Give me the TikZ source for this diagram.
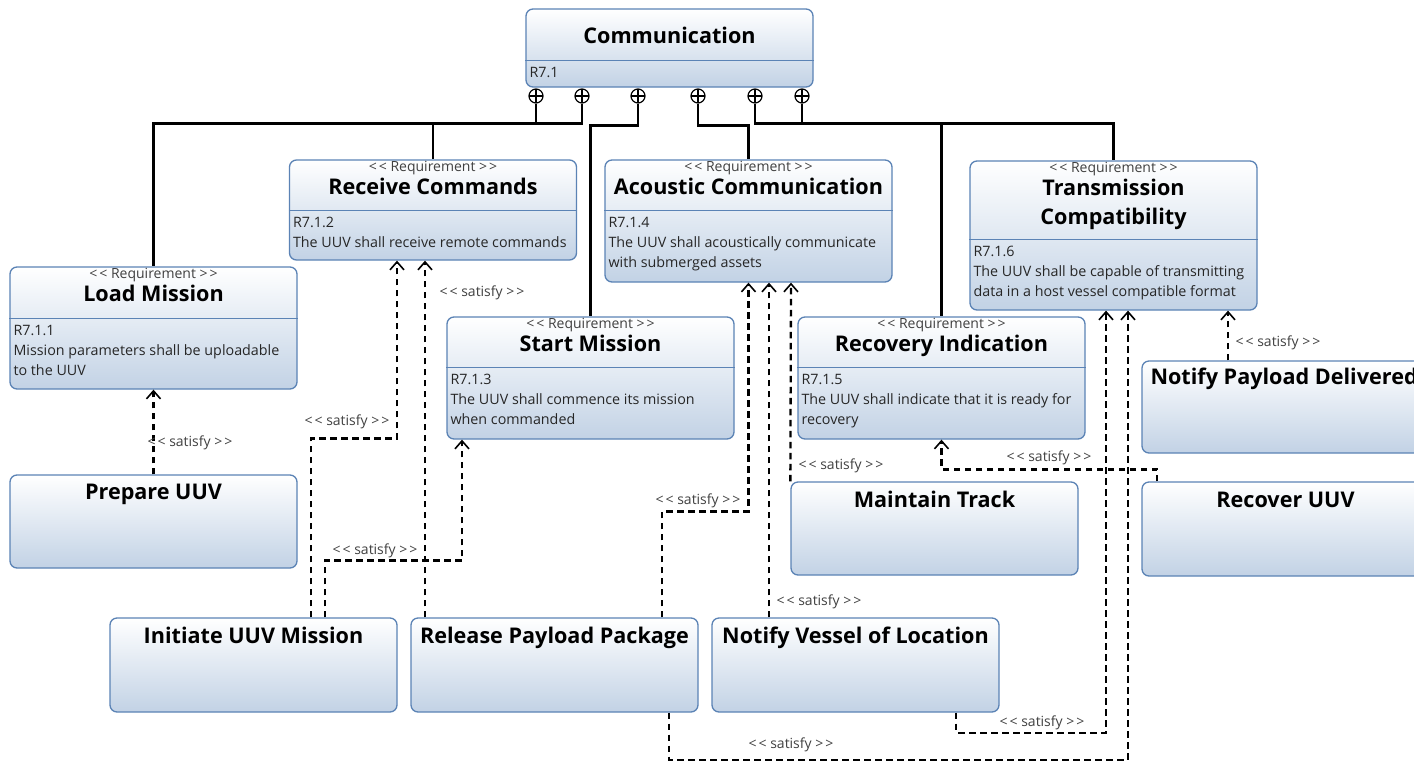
\documentclass[tikz,border=0pt]{standalone}
\usepackage{fontspec}
\setmainfont{Open Sans}
\usetikzlibrary{arrows.meta}
\definecolor{boxedge}{HTML}{5B83B5}
\definecolor{boxlow}{HTML}{C2D2E5}
\definecolor{labelgrey}{HTML}{404040}
\newcommand{\stereo}[1]{<\kern2pt<~#1~>\kern2pt>}
\tikzset{
  blockbox/.style={draw=boxedge, line width=1.3pt, rounded corners=7pt, top color=white, bottom color=boxlow, minimum width=287pt, inner sep=0pt},
  divider/.style={draw=boxedge, line width=1.3pt},
  stereotype/.style={font=\fontsize{14}{16}\selectfont, text=labelgrey, inner sep=0pt},
  titlefont/.style={font=\fontsize{21.6}{29}\selectfont\bfseries, inner sep=0pt},
  oneline/.style={text height=15pt, text depth=4pt},
  bodytext/.style={font=\fontsize{14.3}{20}\selectfont, text=black!85, align=left, anchor=north west, inner sep=0pt},
  contain/.style={circle, draw, fill=white, line width=1.2pt, minimum size=14pt, inner sep=0pt,
    path picture={\draw[line width=1.2pt] (path picture bounding box.north) -- (path picture bounding box.south)
      (path picture bounding box.west) -- (path picture bounding box.east);}},
  tree/.style={line width=2.3pt},
  sat/.style={line width=2.3pt, dash pattern=on 6.5pt off 4.5pt, -{Straight Barb[length=8pt,width=14pt,line width=1.6pt]}},
  satlabel/.style={font=\fontsize{14}{16}\selectfont, text=labelgrey, inner sep=0pt}
}
\begin{document}
\begin{tikzpicture}[x=1pt,y=-1pt]
    \useasboundingbox (0,0) rectangle (1414,761);
    \clip (0,0) rectangle (1414,761);

    % requirements
    \node[blockbox, minimum height=78pt] (comm) at (669.5,48) {};
    \draw[divider] ([yshift=-52pt]comm.north west) -- ([yshift=-52pt]comm.north east);
    \node[titlefont, oneline] (commt) at ([yshift=-30pt]comm.north) {Communication};
    \node[bodytext] (commd) at ([xshift=4pt,yshift=-55pt]comm.north west) {\strut R7.1};

    \node[blockbox, minimum height=100pt] (recv) at (433,210) {};
    \draw[divider] ([yshift=-51pt]recv.north west) -- ([yshift=-51pt]recv.north east);
    \node[stereotype] (recvs) at ([yshift=-9pt]recv.north) {\stereo{Requirement}};
    \node[titlefont, oneline] (recvt) at ([yshift=-30pt]recv.north) {Receive Commands};
    \node[bodytext] (recvd) at ([xshift=4pt,yshift=-54pt]recv.north west) {\strut R7.1.2\\The UUV shall receive remote commands};

    \node[blockbox, minimum height=122pt] (acou) at (748.5,221) {};
    \draw[divider] ([yshift=-51pt]acou.north west) -- ([yshift=-51pt]acou.north east);
    \node[stereotype] (acous) at ([yshift=-9pt]acou.north) {\stereo{Requirement}};
    \node[titlefont, oneline] (acout) at ([yshift=-30pt]acou.north) {Acoustic Communication};
    \node[bodytext] (acoud) at ([xshift=4pt,yshift=-54pt]acou.north west) {\strut R7.1.4\\The UUV shall acoustically communicate\\with submerged assets};

    \node[blockbox, minimum height=149pt] (trans) at (1113.5,235.5) {};
    \draw[divider] ([yshift=-79pt]trans.north west) -- ([yshift=-79pt]trans.north east);
    \node[stereotype] (transs) at ([yshift=-9pt]trans.north) {\stereo{Requirement}};
    \node[titlefont, align=center] (transt) at ([yshift=-44pt]trans.north) {Transmission\\Compatibility};
    \node[bodytext] (transd) at ([xshift=4pt,yshift=-82pt]trans.north west) {\strut R7.1.6\\The UUV shall be capable of transmitting\\data in a host vessel compatible format};

    \node[blockbox, minimum height=122pt] (loadm) at (153.5,328) {};
    \draw[divider] ([yshift=-52pt]loadm.north west) -- ([yshift=-52pt]loadm.north east);
    \node[stereotype] (loadms) at ([yshift=-9pt]loadm.north) {\stereo{Requirement}};
    \node[titlefont, oneline] (loadmt) at ([yshift=-30pt]loadm.north) {Load Mission};
    \node[bodytext] (loadmd) at ([xshift=4pt,yshift=-55pt]loadm.north west) {\strut R7.1.1\\Mission parameters shall be uploadable\\to the UUV};

    \node[blockbox, minimum height=122pt] (startm) at (590.5,378) {};
    \draw[divider] ([yshift=-51pt]startm.north west) -- ([yshift=-51pt]startm.north east);
    \node[stereotype] (startms) at ([yshift=-9pt]startm.north) {\stereo{Requirement}};
    \node[titlefont, oneline] (startmt) at ([yshift=-30pt]startm.north) {Start Mission};
    \node[bodytext] (startmd) at ([xshift=4pt,yshift=-54pt]startm.north west) {\strut R7.1.3\\The UUV shall commence its mission\\when commanded};

    \node[blockbox, minimum height=122pt] (recov) at (941.5,378) {};
    \draw[divider] ([yshift=-51pt]recov.north west) -- ([yshift=-51pt]recov.north east);
    \node[stereotype] (recovs) at ([yshift=-9pt]recov.north) {\stereo{Requirement}};
    \node[titlefont, oneline] (recovt) at ([yshift=-30pt]recov.north) {Recovery Indication};
    \node[bodytext] (recovd) at ([xshift=4pt,yshift=-54pt]recov.north west) {\strut R7.1.5\\The UUV shall indicate that it is ready for\\recovery};

    % activities
    \node[blockbox, minimum height=93pt] (prep) at (153.5,521.5) {};
    \node[titlefont, oneline] (prept) at ([yshift=-20pt]prep.north) {Prepare UUV};
    \node[blockbox, minimum height=93pt] (maint) at (934.5,528.5) {};
    \node[titlefont, oneline] (maintt) at ([yshift=-21pt]maint.north) {Maintain Track};
    \node[blockbox, minimum height=92pt] (npd) at (1285.5,407) {};
    \node[titlefont, oneline, anchor=west] (npdt) at ([xshift=9pt,yshift=-19pt]npd.north west) {Notify Payload Delivered};
    \node[blockbox, minimum height=94pt] (recuuv) at (1285.5,529) {};
    \node[titlefont, oneline] (recuuvt) at ([yshift=-21pt]recuuv.north) {Recover UUV};
    \node[blockbox, minimum height=94pt] (init) at (253.5,665) {};
    \node[titlefont, oneline] (initt) at ([yshift=-21pt]init.north) {Initiate UUV Mission};
    \node[blockbox, minimum height=94pt] (relp) at (554.5,665) {};
    \node[titlefont, oneline] (relpt) at ([yshift=-21pt]relp.north) {Release Payload Package};
    \node[blockbox, minimum height=94pt] (nves) at (855.5,665) {};
    \node[titlefont, oneline] (nvest) at ([yshift=-21pt]nves.north) {Notify Vessel of Location};

    % containment
    \node[contain] (c1) at (536,96) {};
    \node[contain] (c2) at (582,96) {};
    \node[contain] (c3) at (638,96) {};
    \node[contain] (c4) at (698,96) {};
    \node[contain] (c5) at (755,96) {};
    \node[contain] (c6) at (802,96) {};
    \draw[tree] (c1.south) -- ++(0,20) -| (loadm.north);
    \draw[tree] (c2.south) -- ++(0,20) -| (recv.north);
    \draw[tree] (c3.south) -- ++(0,22) -| (startm.north);
    \draw[tree] (c4.south) -- ++(0,22) -| (acou.north);
    \draw[tree] (c5.south) -- ++(0,20) -| (recov.north);
    \draw[tree] (c6.south) -- ++(0,20) -| (trans.north);

    % satisfy
    \draw[sat] (prep.north) -- (loadm.south);
    \draw[sat] ([xshift=57.5pt]init.north) -- ++(0,-179) -| ([xshift=-36pt]recv.south);
    \draw[sat] ([xshift=71.5pt]init.north) -- ++(0,-57) -| ([xshift=-128.5pt]startm.south);
    \draw[sat] ([xshift=-129.5pt]relp.north) -- ([xshift=-8pt]recv.south);
    \draw[sat] ([xshift=107.5pt]relp.north) -- ++(0,-106) -| (acou.south);
    \draw[sat] ([xshift=-86.5pt]nves.north) -- ([xshift=20.5pt]acou.south);
    \draw[sat] (maint.north west) -- ([xshift=42.5pt]acou.south);
    \draw[sat] ([xshift=-128.5pt]recuuv.north) -- ++(0,-12) -| (recov.south);
    \draw[sat] ([xshift=100.5pt]nves.south) -- ++(0,20) -| ([xshift=-7.5pt]trans.south);
    \draw[sat] ([xshift=114.5pt]relp.south) -- ++(0,47) -| ([xshift=14.5pt]trans.south);
    \draw[sat] ([xshift=-57.5pt]npd.north) -- ([xshift=114.5pt]trans.south);

    \node[satlabel] (l1) at (190,443) {\stereo{satisfy}};
    \node[satlabel] (l2) at (347,422) {\stereo{satisfy}};
    \node[satlabel] (l3) at (375,551) {\stereo{satisfy}};
    \node[satlabel] (l4) at (482,293) {\stereo{satisfy}};
    \node[satlabel] (l5) at (698,501) {\stereo{satisfy}};
    \node[satlabel] (l6) at (819,602) {\stereo{satisfy}};
    \node[satlabel] (l7) at (841,466) {\stereo{satisfy}};
    \node[satlabel] (l8) at (1049,458) {\stereo{satisfy}};
    \node[satlabel] (l9) at (1042,723) {\stereo{satisfy}};
    \node[satlabel] (l10) at (791,745) {\stereo{satisfy}};
    \node[satlabel] (l11) at (1278,343) {\stereo{satisfy}};
\end{tikzpicture}
\end{document}
